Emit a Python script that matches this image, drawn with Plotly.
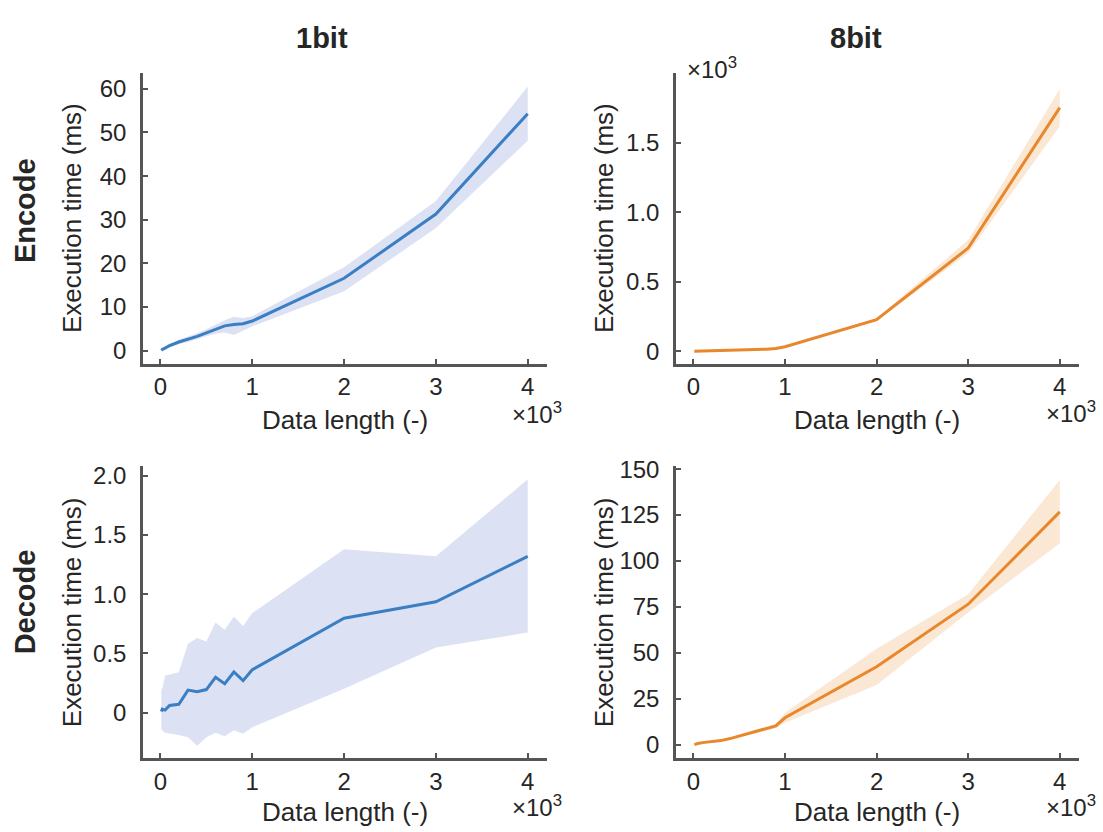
import plotly.graph_objects as go

# ---------------- data ----------------
data_length = [10, 20, 50, 100, 200, 300, 400, 500, 600, 700, 800, 900, 1000, 2000, 3000, 4000]

enc1_mean = [0.1, 0.3, 0.6, 1.2, 2.0, 2.6, 3.3, 4.1, 4.9, 5.7, 6.0, 6.2, 6.8, 16.6, 31.3, 54.3]
enc1_low = [0.0, 0.1, 0.3, 0.8, 1.5, 2.0, 2.6, 3.3, 3.9, 4.2, 3.6, 4.6, 5.6, 13.6, 28.1, 48.1]
enc1_high = [0.3, 0.6, 1.0, 1.6, 2.5, 3.2, 4.0, 4.9, 5.9, 7.0, 7.8, 7.5, 7.9, 19.1, 34.3, 60.5]

enc8_mean = [0.5, 1, 2, 3, 4, 5, 6, 7, 9, 12, 15, 20, 33, 228, 742, 1752]
enc8_low = [0.4, 0.8, 1.6, 2.5, 3, 4, 5, 6, 8, 10, 13, 17, 29, 218, 705, 1617]
enc8_high = [0.6, 1.2, 2.4, 3.5, 5, 6, 7, 8, 10, 14, 17, 23, 37, 238, 800, 1885]

dec1_mean = [0.008, 0.028, 0.02, 0.06, 0.069, 0.189, 0.175, 0.194, 0.297, 0.244, 0.342, 0.269, 0.361, 0.797, 0.935, 1.32]
dec1_low = [-0.14, -0.15, -0.17, -0.18, -0.19, -0.21, -0.28, -0.21, -0.17, -0.2, -0.15, -0.18, -0.125, 0.2, 0.55, 0.675]
dec1_high = [0.2, 0.2, 0.31, 0.32, 0.34, 0.58, 0.63, 0.6, 0.76, 0.7, 0.81, 0.73, 0.84, 1.38, 1.32, 1.97]

dec8_mean = [0.1, 0.3, 0.7, 1.2, 1.8, 2.3, 3.4, 4.8, 6.2, 7.3, 8.6, 10.3, 14.7, 42.5, 76.5, 126.7]
dec8_low = [0.0, 0.2, 0.5, 1.0, 1.5, 2.0, 3.0, 4.3, 5.6, 6.5, 7.6, 9.2, 12.0, 32.6, 72.0, 109.7]
dec8_high = [0.2, 0.4, 0.9, 1.4, 2.1, 2.7, 3.9, 5.4, 7.0, 8.3, 9.7, 11.5, 17.4, 52.3, 81.9, 144.1]

x_tickvals = [0, 1000, 2000, 3000, 4000]
x_ticktext = ["0", "1", "2", "3", "4"]

col_titles = ["1bit", "8bit"]
row_titles = ["Encode", "Decode"]

# ---------------- style ----------------
FONT = "Liberation Sans, Arial, sans-serif"
TXT = "#262626"
AX = "#555555"
BLUE = "#3a7ec4"
BLUE_BAND = "rgba(205,214,238,0.7)"
ORANGE = "#e8872c"
ORANGE_BAND = "rgba(248,220,190,0.65)"
TICK_SIZE = 24
LABEL_SIZE = 26
TITLE_SIZE = 29

W, H = 1103, 832

def px_x(p):
    return p / W

def px_y(p):
    return 1 - p / H

fig = go.Figure()

panels = [
    (enc1_mean, enc1_low, enc1_high, BLUE, BLUE_BAND, "x", "y"),
    (enc8_mean, enc8_low, enc8_high, ORANGE, ORANGE_BAND, "x2", "y2"),
    (dec1_mean, dec1_low, dec1_high, BLUE, BLUE_BAND, "x3", "y3"),
    (dec8_mean, dec8_low, dec8_high, ORANGE, ORANGE_BAND, "x4", "y4"),
]

for mean, low, high, lc, bc, xa, ya in panels:
    fig.add_trace(go.Scatter(
        x=data_length + data_length[::-1],
        y=high + low[::-1],
        fill="toself", fillcolor=bc, line=dict(width=0),
        mode="lines", hoverinfo="skip", showlegend=False,
        xaxis=xa, yaxis=ya,
    ))
    fig.add_trace(go.Scatter(
        x=data_length, y=mean, mode="lines",
        line=dict(color=lc, width=3),
        showlegend=False, xaxis=xa, yaxis=ya,
    ))

left_dom = [px_x(143), px_x(547)]
right_dom = [px_x(676), px_x(1079)]
top_dom = [px_y(358), px_y(63)]
bot_dom = [px_y(758), px_y(462)]

common_axis = dict(
    showline=True, linecolor=AX, linewidth=2.5,
    ticks="inside", ticklen=5, tickwidth=2, tickcolor=AX,
    showgrid=False, zeroline=False,
    tickfont=dict(family=FONT, size=TICK_SIZE, color=TXT),
)

def xaxis(dom, anchor):
    return dict(domain=dom, anchor=anchor, range=[-190, 4210],
                tickvals=x_tickvals, ticktext=x_ticktext,
                ticklabelstandoff=0, **common_axis)

def yaxis(dom, anchor, rng, tv, tt):
    return dict(domain=dom, anchor=anchor, range=rng, tickvals=tv, ticktext=tt,
                ticklabelstandoff=9, **common_axis)

fig.update_layout(
    width=W, height=H,
    margin=dict(l=0, r=0, t=0, b=0),
    plot_bgcolor="white", paper_bgcolor="white",
    xaxis=xaxis(left_dom, "y"),
    yaxis=yaxis(top_dom, "x", [-3, 63.6], [0, 10, 20, 30, 40, 50, 60],
                ["0", "10", "20", "30", "40", "50", "60"]),
    xaxis2=xaxis(right_dom, "y2"),
    yaxis2=yaxis(top_dom, "x2", [-90, 2000], [0, 500, 1000, 1500],
                 ["0", "0.5", "1.0", "1.5"]),
    xaxis3=xaxis(left_dom, "y3"),
    yaxis3=yaxis(bot_dom, "x3", [-0.385, 2.08], [0, 0.5, 1.0, 1.5, 2.0],
                 ["0", "0.5", "1.0", "1.5", "2.0"]),
    xaxis4=xaxis(right_dom, "y4"),
    yaxis4=yaxis(bot_dom, "x4", [-7.2, 151.5], [0, 25, 50, 75, 100, 125, 150],
                 ["0", "25", "50", "75", "100", "125", "150"]),
)

ann = []

def add_text(text, x, y, size=LABEL_SIZE, bold=False, angle=0, xanchor="center", yanchor="middle"):
    ann.append(dict(
        text=f"<b>{text}</b>" if bold else text,
        x=px_x(x), y=px_y(y), xref="paper", yref="paper",
        showarrow=False, textangle=angle, xanchor=xanchor, yanchor=yanchor,
        font=dict(family=FONT, size=size, color=TXT),
    ))

# column / row titles
add_text(col_titles[0], 322, 27, size=TITLE_SIZE, bold=True)
add_text(col_titles[1], 856, 27, size=TITLE_SIZE, bold=True)
add_text(row_titles[0], 25, 203, size=TITLE_SIZE, bold=True, angle=-90)
add_text(row_titles[1], 25, 600, size=TITLE_SIZE, bold=True, angle=-90)

# axis titles
for yc in (210, 610):
    add_text("Execution time (ms)", 72, yc, angle=-90)
    add_text("Execution time (ms)", 604, yc, angle=-90)
add_text("Data length (-)", 345, 415)
add_text("Data length (-)", 877, 415)
add_text("Data length (-)", 345, 813)
add_text("Data length (-)", 877, 813)

# exponent labels
sup = "×10<sup>3</sup>"
add_text(sup, 564, 408, size=TICK_SIZE, xanchor="right")
add_text(sup, 1098, 407, size=TICK_SIZE, xanchor="right")
add_text(sup, 564, 807, size=TICK_SIZE, xanchor="right")
add_text(sup, 1098, 807, size=TICK_SIZE, xanchor="right")
add_text(sup, 685, 58, size=TICK_SIZE, xanchor="left")

fig.update_layout(annotations=ann)

fig.write_html("out.html")
